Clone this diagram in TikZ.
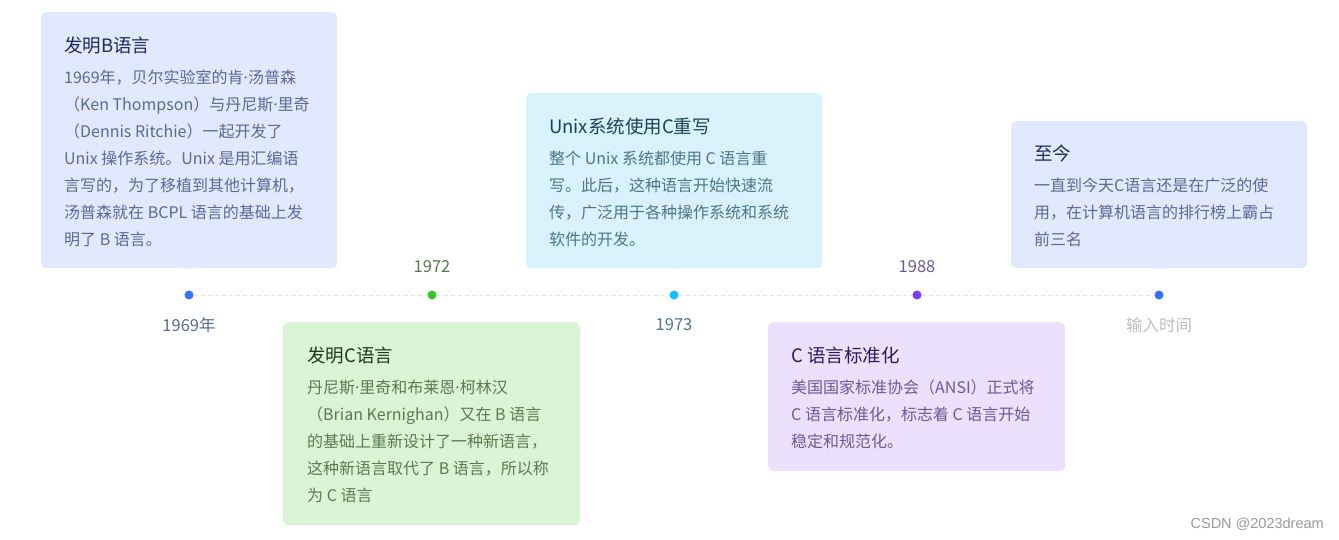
\documentclass[tikz,border=0pt]{standalone}
\usepackage{fontspec}
\setmainfont{Noto Sans CJK SC}
\newfontfamily\wmfont{Liberation Sans}
\newfontfamily\dotfont{Noto Sans}
\newcommand\md{{\dotfont ·}}
\definecolor{bgA}{HTML}{E1E9FF}
\definecolor{bgB}{HTML}{D9F5D6}
\definecolor{bgC}{HTML}{D9F2FC}
\definecolor{bgD}{HTML}{ECE1FD}
\definecolor{ttA}{HTML}{1F2A5A}
\definecolor{txA}{HTML}{5B6A94}
\definecolor{ttB}{HTML}{1E3A1B}
\definecolor{txB}{HTML}{5A7B4E}
\definecolor{ttC}{HTML}{1C4150}
\definecolor{txC}{HTML}{4D7685}
\definecolor{ttD}{HTML}{2D1B5E}
\definecolor{txD}{HTML}{6B5A95}
\definecolor{dotA}{HTML}{3370FF}
\definecolor{dotB}{HTML}{34C724}
\definecolor{dotC}{HTML}{14C0FF}
\definecolor{dotD}{HTML}{7F3BF5}
\definecolor{lineG}{HTML}{E2E4E8}
\definecolor{hintG}{HTML}{BBBFC4}
\definecolor{wmG}{HTML}{9A9A9A}
\newcommand\bodylines[1]{\vtop{\baselineskip=27pt\relax\lineskiplimit=-50pt\relax\halign{##\hfil\cr#1\crcr}}}
\begin{document}
\begin{tikzpicture}[x=1pt,y=-1pt,
  card/.style={anchor=north west, inner sep=0pt, rounded corners=5pt, draw=none},
  ttl/.style={anchor=base west, inner sep=0pt, font=\fontsize{18.5}{22}\selectfont},
  bdy/.style={anchor=base west, inner sep=0pt, font=\fontsize{16}{27}\selectfont},
  yr/.style={inner sep=0pt, font=\fontsize{16.5}{19}\selectfont},
  dotnode/.style={circle, inner sep=0pt, minimum size=9pt, draw=none},
  tline/.style={draw=lineG, line width=1pt, dash pattern=on 4pt off 3pt}]
\useasboundingbox (0,0) rectangle (1339,539);
\fill[white] (0,0) rectangle (1339,539);
% cards
\node[card, fill=bgA, minimum width=296pt, minimum height=256pt] (c1) at (41,12) {};
\node[card, fill=bgB, minimum width=297pt, minimum height=203pt] (c2) at (283,322) {};
\node[card, fill=bgC, minimum width=296pt, minimum height=175pt] (c3) at (526,93) {};
\node[card, fill=bgD, minimum width=297pt, minimum height=149pt] (c4) at (768,322) {};
\node[card, fill=bgA, minimum width=296pt, minimum height=147pt] (c5) at (1011,121) {};
% dots
\node[dotnode, fill=dotA] (d1) at (189,295) {};
\node[dotnode, fill=dotB] (d2) at (432,295) {};
\node[dotnode, fill=dotC] (d3) at (674,295) {};
\node[dotnode, fill=dotD] (d4) at (917,295) {};
\node[dotnode, fill=dotA] (d5) at (1159,295) {};
\draw[tline] (d1) -- (d2);
\draw[tline] (d2) -- (d3);
\draw[tline] (d3) -- (d4);
\draw[tline] (d4) -- (d5);
% pointers
\fill[bgA] ([xshift=-7pt]c1.south -| d1) -- ([xshift=7pt]c1.south -| d1) -- ([yshift=6pt]c1.south -| d1) -- cycle;
\fill[bgB] ([xshift=-7pt]c2.north -| d2) -- ([xshift=7pt]c2.north -| d2) -- ([yshift=-6pt]c2.north -| d2) -- cycle;
\fill[bgC] ([xshift=-7pt]c3.south -| d3) -- ([xshift=7pt]c3.south -| d3) -- ([yshift=6pt]c3.south -| d3) -- cycle;
\fill[bgD] ([xshift=-7pt]c4.north -| d4) -- ([xshift=7pt]c4.north -| d4) -- ([yshift=-6pt]c4.north -| d4) -- cycle;
\fill[bgA] ([xshift=-7pt]c5.south -| d5) -- ([xshift=7pt]c5.south -| d5) -- ([yshift=6pt]c5.south -| d5) -- cycle;
% year labels
\node[yr, text=txA] (y1) at (189,325) {1969年};
\node[yr, text=txB] (y2) at (432,267) {1972};
\node[yr, text=txC] (y3) at (674,325) {1973};
\node[yr, text=txD] (y4) at (917,267) {1988};
\node[yr, text=hintG] (y5) at (1159,325) {输入时间};
% card 1
\node[ttl, text=ttA] (t1) at (64,52) {发明B语言};
\node[bdy, text=txA] (b1) at (64,83) {\bodylines{1969年，贝尔实验室的肯\md 汤普森\cr
（Ken Thompson）与丹尼斯\md 里奇\cr
（Dennis Ritchie）一起开发了\cr
Unix 操作系统。Unix 是用汇编语\cr
言写的，为了移植到其他计算机，\cr
汤普森就在 BCPL 语言的基础上发\cr
明了 B 语言。}};
% card 2
\node[ttl, text=ttB] (t2) at (307,362) {发明C语言};
\node[bdy, text=txB] (b2) at (307,393) {\bodylines{丹尼斯\md 里奇和布莱恩\md 柯林汉\cr
（Brian Kernighan）又在 B 语言\cr
的基础上重新设计了一种新语言，\cr
这种新语言取代了 B 语言，所以称\cr
为 C 语言}};
% card 3
\node[ttl, text=ttC] (t3) at (549,133) {Unix系统使用C重写};
\node[bdy, text=txC] (b3) at (549,164) {\bodylines{整个 Unix 系统都使用 C 语言重\cr
写。此后，这种语言开始快速流\cr
传，广泛用于各种操作系统和系统\cr
软件的开发。}};
% card 4
\node[ttl, text=ttD] (t4) at (791,362) {C 语言标准化};
\node[bdy, text=txD] (b4) at (791,393) {\bodylines{美国国家标准协会（ANSI）正式将\cr
C 语言标准化，标志着 C 语言开始\cr
稳定和规范化。}};
% card 5
\node[ttl, text=ttA] (t5) at (1034,160) {至今};
\node[bdy, text=txA] (b5) at (1034,191) {\bodylines{一直到今天C语言还是在广泛的使\cr
用，在计算机语言的排行榜上霸占\cr
前三名}};
% watermark
\node[anchor=east, inner sep=0pt, text=wmG, font=\wmfont\fontsize{14.5}{17}\selectfont] (wm) at (1324,524) {CSDN @2023dream};
\end{tikzpicture}
\end{document}
